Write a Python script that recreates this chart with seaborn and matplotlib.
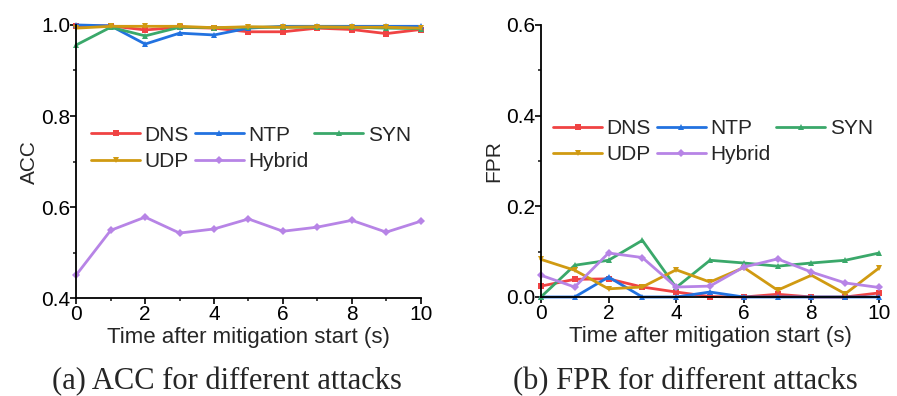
import numpy as np
import pandas as pd
import matplotlib
matplotlib.use("Agg")
import matplotlib.pyplot as plt
from matplotlib.ticker import MultipleLocator
import seaborn as sns

time = list(range(11))
attacks = ["DNS", "NTP", "SYN", "UDP", "Hybrid"]

acc_dns = [0.998, 0.998, 0.989, 0.995, 0.993, 0.985, 0.985, 0.993, 0.990, 0.981, 0.990]
acc_ntp = [1.000, 0.998, 0.958, 0.982, 0.978, 0.993, 0.997, 0.997, 0.997, 0.997, 0.997]
acc_syn = [0.956, 0.995, 0.976, 0.995, 0.994, 0.995, 0.995, 0.995, 0.995, 0.993, 0.992]
acc_udp = [0.993, 0.997, 0.997, 0.997, 0.994, 0.996, 0.995, 0.996, 0.995, 0.995, 0.993]
acc_hybrid = [0.451, 0.549, 0.578, 0.543, 0.552, 0.574, 0.547, 0.556, 0.571, 0.545, 0.569]

fpr_dns = [0.024, 0.039, 0.040, 0.022, 0.011, 0.001, 0.000, 0.006, 0.000, 0.000, 0.009]
fpr_ntp = [0.000, 0.000, 0.044, 0.000, 0.000, 0.011, 0.000, 0.000, 0.000, 0.000, 0.000]
fpr_syn = [0.000, 0.070, 0.081, 0.125, 0.021, 0.081, 0.075, 0.068, 0.075, 0.081, 0.097]
fpr_udp = [0.083, 0.059, 0.018, 0.022, 0.060, 0.033, 0.065, 0.015, 0.048, 0.007, 0.064]
fpr_hybrid = [0.048, 0.022, 0.097, 0.087, 0.022, 0.024, 0.066, 0.084, 0.055, 0.031, 0.021]

colors = {"DNS": "#f04343", "NTP": "#2272e0", "SYN": "#3aa86a", "UDP": "#d09a12", "Hybrid": "#b784e6"}
markers = {"DNS": "s", "NTP": "^", "SYN": "^", "UDP": "v", "Hybrid": "D"}

def to_long(series):
    rows = []
    for name, vals in zip(attacks, series):
        for t, v in zip(time, vals):
            rows.append({"time": t, "value": v, "attack": name})
    return pd.DataFrame(rows)

df_acc = to_long([acc_dns, acc_ntp, acc_syn, acc_udp, acc_hybrid])
df_fpr = to_long([fpr_dns, fpr_ntp, fpr_syn, fpr_udp, fpr_hybrid])

sns.set_style("ticks")
plt.rcParams["font.family"] = ["Liberation Sans", "DejaVu Sans"]

fig = plt.figure(figsize=(8.97, 3.96), dpi=100)
ax1 = fig.add_axes([0.085, 0.247, 0.384, 0.690])
ax2 = fig.add_axes([0.603, 0.250, 0.377, 0.687])

def draw(ax, df, ylim, ylabel, leg_anchor):
    sns.lineplot(data=df, x="time", y="value", hue="attack", style="attack",
                 hue_order=attacks, style_order=attacks, palette=colors,
                 markers=markers, dashes=False, linewidth=2.0, markersize=4,
                 markeredgewidth=0, ax=ax, legend=True)
    ax.set_xlim(0, 10)
    ax.set_ylim(*ylim)
    ax.xaxis.set_major_locator(MultipleLocator(2))
    ax.xaxis.set_minor_locator(MultipleLocator(1))
    ax.yaxis.set_major_locator(MultipleLocator(0.2))
    ax.yaxis.set_minor_locator(MultipleLocator(0.1))
    ax.yaxis.set_major_formatter(matplotlib.ticker.FormatStrFormatter("%.1f"))
    ax.tick_params(axis="both", which="major", labelsize=15, length=4, width=1.2, pad=0, colors="black")
    ax.tick_params(axis="x", which="major", pad=1)
    ax.tick_params(axis="both", which="minor", length=2.5, width=1.2)
    ax.set_xlabel("Time after mitigation start (s)", fontsize=16, labelpad=2)
    ax.set_ylabel(ylabel, fontsize=15, labelpad=2)
    for s in ["top", "right"]:
        ax.spines[s].set_visible(False)
    for s in ["left", "bottom"]:
        ax.spines[s].set_linewidth(1.3)
        ax.spines[s].set_color("black")
    handles, labels = ax.get_legend_handles_labels()
    lookup = dict(zip(labels, handles))
    order = ["DNS", "UDP", "NTP", "Hybrid", "SYN"]
    ax.legend([lookup[k] for k in order], order, ncol=3, frameon=False, fontsize=15,
              loc="upper left", bbox_to_anchor=leg_anchor, handlelength=2.35,
              handletextpad=0.2, columnspacing=0.3, labelspacing=0.35,
              borderaxespad=0, borderpad=0)
    for line in ax.lines:
        line.set_clip_on(False)

draw(ax1, df_acc, (0.4, 1.0), "ACC", (0.043, 0.632))
draw(ax2, df_fpr, (0.0, 0.6), "FPR", (0.036, 0.654))

fig.text(0.253, 0.036, "(a) ACC for different attacks", ha="center", va="center",
         fontsize=22, family=["Liberation Serif", "DejaVu Serif"])
fig.text(0.764, 0.036, "(b) FPR for different attacks", ha="center", va="center",
         fontsize=22, family=["Liberation Serif", "DejaVu Serif"])

fig.savefig("out.png", dpi=100)
